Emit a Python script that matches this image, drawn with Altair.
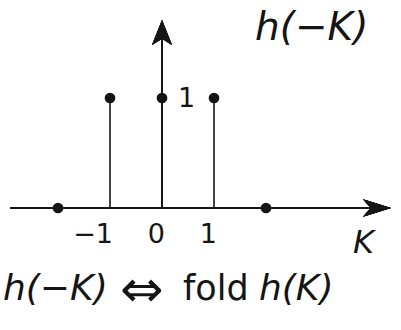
import altair as alt
import pandas as pd

# Folded sequence h(-K): samples at K = -2..2
k_values = [-2, -1, 0, 1, 2]
h_values = [0, 1, 1, 1, 0]

# Labels under the K axis
tick_k = [-1, 0, 1]
tick_labels = ["\u22121", "0", "1"]

W, H = 401, 330
INK = "#151515"
FONT = "DejaVu Sans"

samples = pd.DataFrame({"k": k_values, "h": h_values, "base": [0] * len(k_values)})
ticks = pd.DataFrame({"k": tick_k, "label": tick_labels})

x_scale = alt.Scale(domain=[-162 / 52, (W - 162) / 52], nice=False, zero=False)
y_scale = alt.Scale(domain=[-(H - 208) / 110, 208 / 110], nice=False, zero=False)

X = lambda f: alt.X(f, scale=x_scale, axis=None)
Y = lambda f: alt.Y(f, scale=y_scale, axis=None)

base = alt.Chart(samples)

# horizontal K axis with arrowhead
axis_line = base.mark_rule(color=INK, strokeWidth=2).encode(
    x=alt.value(10), x2=alt.value(380), y=alt.Y(datum=0, scale=y_scale, axis=None)
)
axis_head = base.mark_point(
    shape="M 1 0 L -1 -0.62 L -0.45 0 L -1 0.62 Z", filled=True, opacity=1, color=INK, size=784
).encode(x=alt.value(377), y=alt.Y(datum=0, scale=y_scale, axis=None))

# vertical arrow through K = 0
v_line = base.mark_rule(color=INK, strokeWidth=1.5).encode(
    x=alt.X(datum=0, scale=x_scale, axis=None),
    y=alt.Y(datum=0, scale=y_scale, axis=None),
    y2=alt.value(36),
)
v_head = base.mark_point(
    shape="M 0 -1 L 0.8 1 L 0 0.5 L -0.8 1 Z", filled=True, opacity=1, color=INK, size=625
).encode(x=alt.X(datum=0, scale=x_scale, axis=None), y=alt.value(32.5))

# stems and sample dots
stems = base.transform_filter("datum.h != 0").mark_rule(color=INK, strokeWidth=1.6).encode(
    x=X("k:Q"), y=Y("base:Q"), y2="h:Q"
)
dots = base.mark_circle(color=INK, size=115, opacity=1).encode(x=X("k:Q"), y=Y("h:Q"))

# value label beside the centre sample
value_label = base.transform_filter("datum.k == 0").mark_text(
    font=FONT, fontSize=27, color=INK, align="left", baseline="middle", dx=16, dy=1
).encode(x=X("k:Q"), y=Y("h:Q"), text="h:Q")

tick_text = alt.Chart(ticks).mark_text(
    font=FONT, fontSize=27, color=INK, align="right", baseline="alphabetic", dx=3, dy=35
).encode(x=X("k:Q"), y=alt.Y(datum=0, scale=y_scale, axis=None), text="label:N")

def label(txt, x, y, size, italic=False, align="left"):
    return alt.Chart(samples).transform_filter("datum.k == 0").mark_text(
        text=txt, font=FONT, fontSize=size, color=INK, align=align, baseline="alphabetic",
        fontStyle="italic" if italic else "normal",
    ).encode(x=alt.value(x), y=alt.value(y))

title_lbl = label("h(\u2212K)", 255, 40, 39, italic=True)
k_lbl = label("K", 353, 253, 32, italic=True)
cap1 = label("h(\u2212K)", 3, 300, 36, italic=True)
cap2 = label("\u21d4", 120, 307, 52)
cap3 = label("fold", 183, 300, 35)
cap4 = label("h(K)", 259, 300, 36, italic=True)

chart = alt.layer(
    axis_line, axis_head, v_line, v_head, stems, dots, value_label, tick_text,
    title_lbl, k_lbl, cap1, cap2, cap3, cap4,
).properties(width=W, height=H, padding=0, autosize="none", background="white").configure_view(stroke=None)

chart.save("out.html", embed_options={"renderer": "svg", "actions": False})
